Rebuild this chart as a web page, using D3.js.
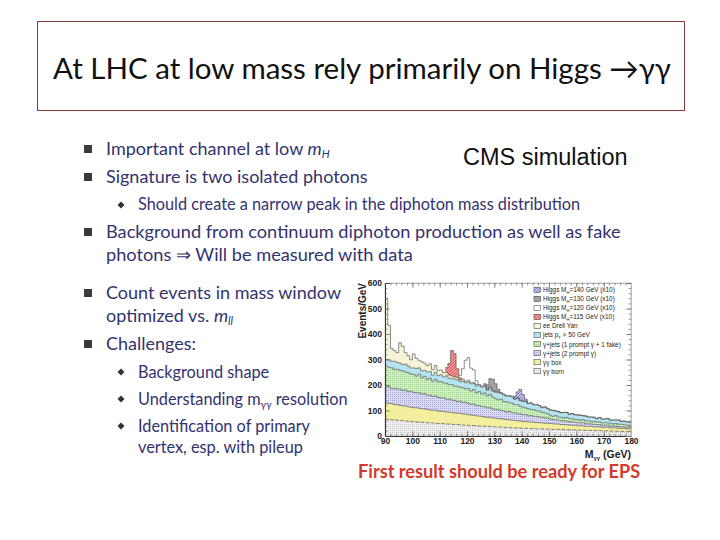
<!DOCTYPE html>
<html><head><meta charset="utf-8">
<script src="https://cdn.jsdelivr.net/npm/d3@7"></script>
<style>body{margin:0;background:#fff} svg{display:block}</style>
</head><body>
<svg id="c" width="720" height="540"></svg>
<script>
// ---------- DATA (Events/GeV, 1 GeV bins from 90 to 180 GeV) ----------
const binLow = 90;
const born = [66,65,64,63,62,61,60,59,58,57, 56,55,55,54,53,52,51,51,50,49, 49,48,47,47,46,45,45,44,43,43,
  42,41,41,40,39,39,38,37,37,36, 36,35,35,34,33,33,32,32,31,31, 30,30,29,29,29,28,28,28,27,27,
  27,26,26,26,25,25,25,24,24,24, 23,23,23,22,22,22,21,21,21,20, 20,20,19,19,19,18,18,18,17,17];
const box = [64,62,63,60,61,59,58,59,57,56, 55,56,54,53,54,52,51,50,51,49, 48,48,47,46,47,45,44,45,43,43,
  42,41,40,39,39,38,37,36,36,35, 34,33,33,32,31,31,30,29,29,28, 27,27,26,26,25,25,24,24,23,23,
  22,22,21,21,20,20,19,19,18,18, 17,17,17,16,16,16,15,15,15,14, 14,14,13,13,13,12,12,12,11,11];
const gjets2 = [62,66,58,64,61,65,60,63,59,62, 60,58,61,57,59,56,58,54,56,53, 52,54,50,52,48,50,46,48,45,46,
  44,42,44,40,41,38,40,37,38,35, 34,36,32,33,30,32,29,30,27,28, 26,27,24,25,23,24,22,22,21,21,
  17,16,17,15,15,14,14,13,13,12, 12,11,12,10,10,9,10,9,8,8, 8,8,7,7,7,7,6,6,6,6];
const gjets1 = [80,76,82,74,78,72,77,70,74,68, 70,66,72,64,68,62,67,60,65,61, 64,58,63,56,61,55,60,54,58,53,
  58,52,57,50,55,49,54,47,52,46, 42,38,44,36,40,34,38,32,36,30, 30,26,28,24,26,22,24,19,20,17,
  15,13,16,12,14,11,15,12,13,11, 13,10,12,11,12,9,11,10,11,9, 10,9,11,8,10,9,10,8,9,8];
const jets = [28,30,26,32,27,29,25,31,27,24, 26,30,25,28,24,29,26,23,28,25, 27,24,29,26,23,28,25,22,27,24,
  26,29,24,27,23,28,25,22,26,24, 25,28,23,26,22,27,24,21,25,22, 22,25,20,24,19,23,21,18,22,20,
  20,23,18,21,17,22,19,16,20,18, 17,20,15,19,14,18,16,13,17,15, 14,17,12,15,13,16,11,14,12,12];
const drellYan = [240,135,50,42,38,80,72,45,40,32, 55,40,30,35,28,25,30,22,26,20, 19,16,14,12,10,8,9,7,8,6,
  7,6,5,6,5,4,5,4,4,3, 4,3,3,4,3,2,3,2,3,2, 2,2,2,3,2,2,1,2,2,1,
  2,1,1,2,1,1,1,2,1,1, 1,1,2,1,1,1,1,1,1,1, 1,1,1,1,1,1,1,1,1,1];
const h115Mass = [112,113,114,115,116,117];
const h115Vals = [18,45,100,92,35,8];
const h120Mass = [117,118,119,120,121,122,123];
const h120Vals = [10,40,82,88,55,48,15];
const h130Mass = [126,127,128,129,130,131];
const h130Vals = [6,18,32,44,30,10];
const h140Mass = [137,138,139,140,141];
const h140Vals = [10,22,42,26,8];
const xTicks = [90,100,110,120,130,140,150,160,170,180];
const yTicks = [0,100,200,300,400,500,600];
const legendLabels = ["Higgs M_H=140 GeV (x10)","Higgs M_H=130 GeV (x10)","Higgs M_H=120 GeV (x10)",
  "Higgs M_H=115 GeV (x10)","ee Drell Yan","jets p_T > 50 GeV","γ+jets (1 prompt γ + 1 fake)",
  "γ+jets (2 prompt γ)","γγ box","γγ born"];

// ---------- BUILD ----------
const svg = d3.select("#c");
const defs = svg.append("defs");
function dotPat(id, bg, dot, size){
  const p = defs.append("pattern").attr("id",id).attr("width",size).attr("height",size).attr("patternUnits","userSpaceOnUse");
  p.append("rect").attr("width",size).attr("height",size).attr("fill",bg);
  p.append("rect").attr("width",1).attr("height",1).attr("fill",dot);
}
function hatchPat(id, bg, line){
  const p = defs.append("pattern").attr("id",id).attr("width",3).attr("height",3).attr("patternUnits","userSpaceOnUse");
  p.append("rect").attr("width",3).attr("height",3).attr("fill",bg);
  p.append("path").attr("d","M0,3 L3,0").attr("stroke",line).attr("stroke-width",0.8);
}
dotPat("pBorn","#f1f1f1","#c9c9c9",2);
dotPat("pG2","#dcdcf3","#a6a6d6",2);
dotPat("pG1","#d3efc6","#9cd08c",2);
hatchPat("pH115","#f29a9a","#d84040");
hatchPat("pH140","#c4c4ee","#6a6ac8");

const keys = ["born","box","gjets2","gjets1","jets","dy","h115","h120","h130","h140"];
const fills = {born:"url(#pBorn)",box:"#f4ef9f",gjets2:"url(#pG2)",gjets1:"url(#pG1)",jets:"#b5e3ef",dy:"#f7f3d6",
  h115:"url(#pH115)",h120:"#ffffff",h130:"#a3a3a3",h140:"url(#pH140)"};
function sparse(masses, vals){ const a = new Array(born.length).fill(0); masses.forEach((m,i)=>a[m-binLow]=vals[i]); return a; }
const H = {h115:sparse(h115Mass,h115Vals),h120:sparse(h120Mass,h120Vals),h130:sparse(h130Mass,h130Vals),h140:sparse(h140Mass,h140Vals)};
const ranges = {h115:[112,118],h120:[117,124],h130:[126,132],h140:[137,142]};
const rows = born.map((_,i)=>({m:binLow+i,born:born[i],box:box[i],gjets2:gjets2[i],gjets1:gjets1[i],jets:jets[i],dy:drellYan[i],
  h115:H.h115[i],h120:H.h120[i],h130:H.h130[i],h140:H.h140[i]}));
rows.push(Object.assign({}, rows[rows.length-1], {m:binLow+born.length}));
const series = d3.stack().keys(keys)(rows);

const x = d3.scaleLinear().domain([90,180]).range([385,631]);
const y = d3.scaleLinear().domain([0,600]).range([436,283]);

const plot = svg.append("g");
series.forEach(s=>{
  const k = s.key;
  const def = ranges[k] ? (d=>d.data.m>=ranges[k][0] && d.data.m<=ranges[k][1]) : (()=>true);
  const area = d3.area().defined(def).curve(d3.curveStepAfter).x(d=>x(d.data.m)).y0(d=>y(d[0])).y1(d=>y(d[1]));
  plot.append("path").attr("d",area(s)).attr("fill",fills[k]);
});
series.forEach(s=>{
  const k = s.key;
  const def = ranges[k] ? (d=>d.data.m>=ranges[k][0] && d.data.m<=ranges[k][1]) : (()=>true);
  const line = d3.line().defined(def).curve(d3.curveStepAfter).x(d=>x(d.data.m)).y(d=>y(d[1]));
  plot.append("path").attr("d",line(s)).attr("fill","none").attr("stroke",k==="born"?"#333":"#444").attr("stroke-width",0.6)
    .attr("stroke-dasharray", k==="born"?"4,1.5":null);
});
// frame
svg.append("rect").attr("x",385).attr("y",283).attr("width",246).attr("height",153).attr("fill","none").attr("stroke","#999").attr("stroke-width",0.5);

const tickFont = g=>g.selectAll("text").attr("font-family","Liberation Sans, Arial, sans-serif").attr("font-weight","bold").attr("font-size",8.5).attr("fill","#222");
const ax = svg.append("g").attr("transform","translate(0,436)")
  .call(d3.axisBottom(x).tickValues(xTicks).tickSize(-5).tickPadding(2).tickFormat(d3.format("d")));
ax.call(tickFont); ax.select(".domain").attr("stroke","#333");
svg.append("g").attr("transform","translate(0,436)").call(d3.axisBottom(x).tickValues(d3.range(90,181,2)).tickSize(-2.5).tickFormat("")).select(".domain").remove();
svg.append("g").attr("transform","translate(0,283)").call(d3.axisTop(x).tickValues(xTicks).tickSize(-5).tickFormat("")).select(".domain").attr("stroke","#bbb");
svg.append("g").attr("transform","translate(0,283)").call(d3.axisTop(x).tickValues(d3.range(90,181,2)).tickSize(-2.5).tickFormat("")).select(".domain").remove();
const ay = svg.append("g").attr("transform","translate(385,0)")
  .call(d3.axisLeft(y).tickValues(yTicks).tickSize(-5).tickPadding(3));
ay.call(tickFont); ay.select(".domain").attr("stroke","#333");
svg.append("g").attr("transform","translate(385,0)").call(d3.axisLeft(y).tickValues(d3.range(0,601,20)).tickSize(-2.5).tickFormat("")).select(".domain").remove();
svg.append("g").attr("transform","translate(631,0)").call(d3.axisRight(y).tickValues(yTicks).tickSize(-5).tickFormat("")).select(".domain").attr("stroke","#bbb");
svg.append("g").attr("transform","translate(631,0)").call(d3.axisRight(y).tickValues(d3.range(0,601,20)).tickSize(-2.5).tickFormat("")).select(".domain").remove();
svg.selectAll(".tick line").attr("stroke","#555").attr("stroke-width",0.6);

svg.append("text").attr("transform","translate(366,283) rotate(-90)").attr("text-anchor","end")
  .attr("font-family","Liberation Sans, Arial, sans-serif").attr("font-weight","bold").attr("font-size",10).attr("fill","#222").text("Events/GeV");
const xt = svg.append("text").attr("x",631).attr("y",458).attr("text-anchor","end")
  .attr("font-family","Liberation Sans, Arial, sans-serif").attr("font-weight","bold").attr("font-size",10.5).attr("fill","#222");
xt.append("tspan").text("M");
xt.append("tspan").attr("font-size",6).attr("dy",2).text("γγ");
xt.append("tspan").attr("dy",-2).text(" (GeV)");

// legend
const legFill = [fills.h140,fills.h130,fills.h120,fills.h115,fills.dy,fills.jets,fills.gjets1,fills.gjets2,fills.box,fills.born];
const leg = svg.append("g");
legendLabels.forEach((lab,i)=>{
  const yy = 290 + i*9.05;
  leg.append("rect").attr("x",534).attr("y",yy-2.8).attr("width",6.5).attr("height",5.2).attr("fill",legFill[i]).attr("stroke","#333").attr("stroke-width",0.5);
  const t = leg.append("text").attr("x",543).attr("y",yy+2.2).attr("font-family","Liberation Sans, Arial, sans-serif")
    .attr("font-size",6.4).attr("fill","#222");
  const parts = lab.split(/_(H|T)/);
  if(parts.length===1){ t.text(lab); }
  else { t.append("tspan").text(parts[0]); t.append("tspan").attr("font-size",4.2).attr("dy",1.3).text(parts[1]); t.append("tspan").attr("dy",-1.3).text(parts[2]); }
});

// ---------- SLIDE TEXT ----------
svg.append("rect").attr("x",37.5).attr("y",21.5).attr("width",647).attr("height",89).attr("fill","none").attr("stroke","#8a3a3a").attr("stroke-width",1);
svg.append("text").attr("x",362).attr("y",79).attr("text-anchor","middle").attr("font-family","Lato, sans-serif").attr("font-size",29.5).attr("fill","#111")
  .text("At LHC at low mass rely primarily on Higgs →γγ");

const body = "Lato, sans-serif", col = "#33336e";
function bullet(yc){ svg.append("rect").attr("x",84).attr("y",yc-4).attr("width",8).attr("height",8).attr("fill","#3a3a3a"); }
function diamond(yc){ svg.append("path").attr("d",`M121,${yc-3.5} L124.5,${yc} L121,${yc+3.5} L117.5,${yc} Z`).attr("fill","#333"); }
function line(xp, yb, size, parts){
  const t = svg.append("text").attr("x",xp).attr("y",yb).attr("font-family",body).attr("font-size",size).attr("fill",col);
  parts.forEach(p=>{ if(typeof p==="string") t.append("tspan").text(p); else { const s=t.append("tspan").text(p.t); if(p.i) s.attr("font-style","italic"); if(p.sub) s.attr("font-size",size*0.62).attr("dy",3); if(p.up) s.attr("dy",-3);} });
}
bullet(149); line(106,155,18,["Important channel at low ",{t:"m",i:1},{t:"H",i:1,sub:1}]);
bullet(177); line(106,183,18,["Signature is two isolated photons"]);
diamond(205); line(138,210,16.3,["Should create a narrow peak in the diphoton mass distribution"]);
bullet(232); line(106,238,18.2,["Background from continuum diphoton production as well as fake"]);
line(106,261,18.2,["photons ⇒ Will be measured with data"]);
bullet(293); line(106,299,18,["Count events in mass window"]);
line(106,322,18,["optimized vs. ",{t:"m",i:1},{t:"ll",i:1,sub:1}]);
bullet(344); line(106,350,18,["Challenges:"]);
diamond(372); line(138,378,16.3,["Background shape"]);
diamond(399); line(138,405,16.3,["Understanding m",{t:"γγ",sub:1},{t:" resolution",up:1}]);
diamond(426); line(138,432,16.3,["Identification of primary"]);
line(138,453,16.3,["vertex, esp. with pileup"]);

svg.append("text").attr("x",463).attr("y",165).attr("font-family","Liberation Sans, Arial, sans-serif").attr("font-size",23.5).attr("fill","#111").text("CMS simulation");
svg.append("text").attr("x",358).attr("y",478).attr("font-family",body).attr("font-weight","bold").attr("font-size",18.2).attr("fill","#d13b2b").text("First result should be ready for EPS");
</script>
</body></html>
